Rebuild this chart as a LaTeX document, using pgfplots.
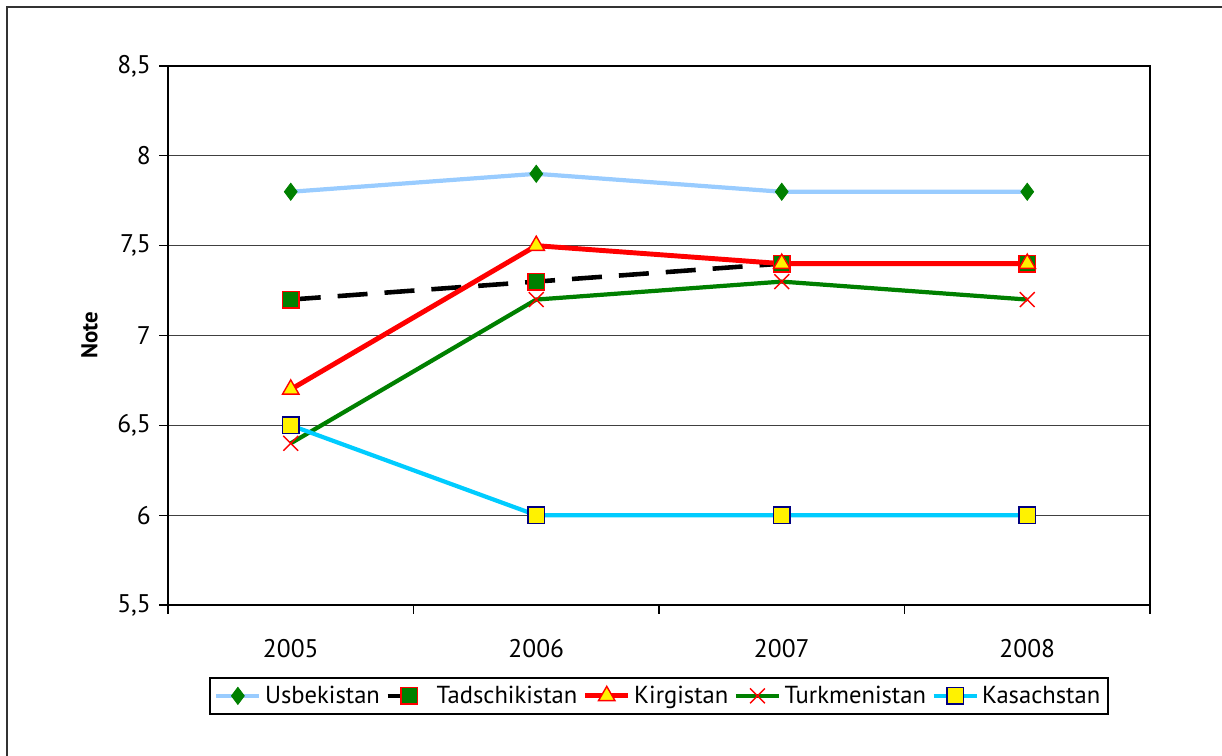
\documentclass[border=0pt]{standalone}
\usepackage{pgfplots}
\pgfplotsset{compat=1.18}
\usepackage{fontspec}
\setmainfont{PT Sans}
\definecolor{usb}{RGB}{153,204,255}
\definecolor{dgreen}{RGB}{0,128,0}
\definecolor{kas}{RGB}{0,204,255}
\definecolor{navy}{RGB}{0,0,128}
\begin{document}
\begin{tikzpicture}
\useasboundingbox (0,0) rectangle (24.44,15.12);
% outer chart frame (only top and left edges are inside the picture)
\draw[line width=1pt, black!80] (0.14,-0.5) -- (0.14,14.98) -- (25,14.98);
\begin{axis}[
    at={(3.36cm,3.02cm)}, anchor=south west,
    scale only axis,
    width=19.64cm, height=10.78cm,
    xmin=0.5, xmax=4.5,
    ymin=5.5, ymax=8.5,
    ytick={5.5,6,...,8.5},
    xtick={1,2,3,4},
    xticklabels={2005,2006,2007,2008},
    minor xtick={0.5,1.5,2.5,3.5,4.5},
    xtick pos=bottom, ytick pos=left,
    major x tick style={draw=none},
    minor x tick style={black, line width=0.6pt},
    y tick style={black, line width=0.6pt},
    tick align=outside,
    major tick length=0.17cm,
    minor tick length=0.17cm,
    ymajorgrids,
    grid style={black!75, line width=0.6pt},
    axis line style={black, line width=0.9pt},
    /pgf/number format/use comma,
    /pgf/number format/assume math mode=true,
    tick label style={font=\fontsize{14.5}{16}\selectfont},
    xticklabel style={yshift=-0.4cm},
    yticklabel style={xshift=-0.05cm},
    ylabel={\bfseries Note},
    ylabel style={font=\fontsize{13}{15}\selectfont, yshift=0.15cm},
    legend columns=5,
    legend style={at={(0.5,-0.134)}, anchor=north, draw=black, line width=0.8pt,
        font=\fontsize{14}{16}\selectfont, inner sep=2.5pt,
        /tikz/every even column/.append style={column sep=0.04cm}},
    legend image code/.code={
        \draw[mark repeat=2,mark phase=2] plot coordinates {(0cm,0cm) (0.43cm,0cm) (0.86cm,0cm)};
    },
    clip=false,
]
\addplot[color=usb, line width=2.4pt, mark=diamond*, mark size=0.17cm,
    mark options={solid, fill=dgreen, draw=dgreen, line width=0.5pt}]
coordinates {(1,7.8) (2,7.9) (3,7.8) (4,7.8)};
\addlegendentry{Usbekistan}
\addplot[color=black, line width=2.6pt, dash pattern=on 0.6cm off 0.34cm, mark=square*, mark size=0.165cm,
    mark options={solid, fill=dgreen, draw=red, line width=0.8pt}]
coordinates {(1,7.2) (2,7.3) (3,7.4) (4,7.4)};
\addlegendentry{Tadschikistan}
\addplot[color=red, line width=2.8pt, mark=triangle*, mark size=0.19cm,
    mark options={solid, fill=yellow, draw=red, line width=0.8pt}]
coordinates {(1,6.7) (2,7.5) (3,7.4) (4,7.4)};
\addlegendentry{Kirgistan}
\addplot[color=dgreen, line width=2.4pt, mark=x, mark size=0.21cm,
    mark options={solid, draw=red, line width=0.8pt}]
coordinates {(1,6.4) (2,7.2) (3,7.3) (4,7.2)};
\addlegendentry{Turkmenistan}
\addplot[color=kas, line width=2.4pt, mark=square*, mark size=0.165cm,
    mark options={solid, fill=yellow, draw=navy, line width=0.8pt}]
coordinates {(1,6.5) (2,6.0) (3,6.0) (4,6.0)};
\addlegendentry{Kasachstan}
\end{axis}
\end{tikzpicture}
\end{document}
